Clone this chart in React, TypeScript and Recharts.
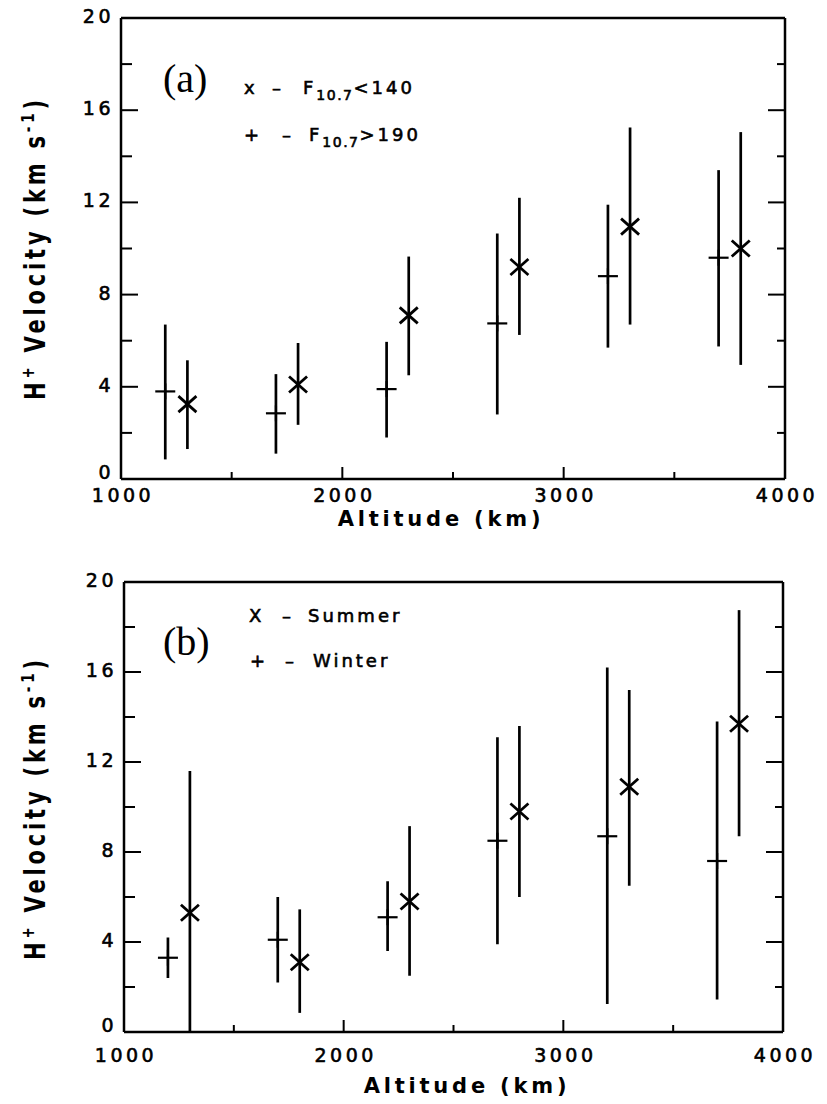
import { ErrorBar, Scatter, ScatterChart, XAxis, YAxis } from 'recharts'

// altitudes (km) of the two marker columns in each group
const ALT_PLUS = [1200, 1700, 2200, 2700, 3200, 3700]
const ALT_CROSS = [1300, 1800, 2300, 2800, 3300, 3800]

// (a) F10.7 > 190  (+)
const A_HIGH_V = [3.8, 2.85, 3.9, 6.75, 8.8, 9.6]
const A_HIGH_LO = [0.85, 1.1, 1.8, 2.8, 5.7, 5.75]
const A_HIGH_UP = [6.7, 4.55, 5.95, 10.65, 11.9, 13.4]
// (a) F10.7 < 140  (x)
const A_LOW_V = [3.25, 4.1, 7.1, 9.2, 10.95, 10.0]
const A_LOW_LO = [1.3, 2.35, 4.5, 6.25, 6.7, 4.95]
const A_LOW_UP = [5.15, 5.9, 9.65, 12.2, 15.25, 15.05]

// (b) Winter (+)
const WINTER_V = [3.3, 4.1, 5.1, 8.5, 8.7, 7.6]
const WINTER_LO = [2.4, 2.2, 3.6, 3.9, 1.25, 1.45]
const WINTER_UP = [4.2, 6.0, 6.7, 13.1, 16.2, 13.8]
// (b) Summer (X)
const SUMMER_V = [5.3, 3.1, 5.8, 9.8, 10.9, 13.7]
const SUMMER_LO = [0, 0.85, 2.5, 6.0, 6.5, 8.7]
const SUMMER_UP = [11.6, 5.45, 9.15, 13.6, 15.2, 18.75]

const X_TICKS = [1000, 1500, 2000, 2500, 3000, 3500, 4000]
const X_LABELS = [1000, 2000, 3000, 4000]
const Y_TICKS = [0, 2, 4, 6, 8, 10, 12, 14, 16, 18, 20]
const Y_LABELS = [0, 4, 8, 12, 16, 20]

const INK = '#000'
const W = 827
const AXIS_LINE = { stroke: INK, strokeWidth: 2.5 }
// thin stroke thickens the glyphs a little, like the scanned lettering
const TICK_FONT = { fontFamily: "'DejaVu Sans', sans-serif", fontSize: 19, letterSpacing: 3.5, fill: INK, stroke: INK, strokeWidth: 0.6 }
const LEGEND_FONT = { fontFamily: "'DejaVu Sans', sans-serif", fontSize: 18, letterSpacing: 3, fill: INK, stroke: INK, strokeWidth: 0.6 }

function build(alt: number[], v: number[], lo: number[], up: number[]) {
  return alt.map((a, i) => ({ alt: a, v: v[i], err: [v[i] - lo[i], up[i] - v[i]] }))
}

const bottomTick = (gap: number) => (p: any) => {
  const major = X_LABELS.includes(p.payload.value)
  return (
    <g>
      <line x1={p.x} y1={p.y} x2={p.x} y2={p.y - (major ? 12 : 7)} stroke={INK} strokeWidth={2} />
      {major && (
        <text x={p.x + 2} y={p.y + gap} textAnchor="middle" dominantBaseline="central" style={TICK_FONT}>
          {p.payload.value}
        </text>
      )}
    </g>
  )
}

const topTick = (p: any) => {
  const major = X_LABELS.includes(p.payload.value)
  return <line x1={p.x} y1={p.y} x2={p.x} y2={p.y + (major ? 12 : 6)} stroke={INK} strokeWidth={2} />
}

const leftTick = (p: any) => {
  const major = Y_LABELS.includes(p.payload.value)
  // the "0" sits a little above its tick, clear of the "1000" below it
  const lift = p.payload.value === 0 ? 7 : 2
  return (
    <g>
      <line x1={p.x} y1={p.y} x2={p.x + (major ? 17 : 11)} y2={p.y} stroke={INK} strokeWidth={2} />
      {major && (
        <text x={p.x - 7} y={p.y - lift} textAnchor="end" dominantBaseline="central" style={TICK_FONT}>
          {p.payload.value}
        </text>
      )}
    </g>
  )
}

const rightTick = (p: any) => {
  const major = Y_LABELS.includes(p.payload.value)
  return <line x1={p.x} y1={p.y} x2={p.x - (major ? 17 : 8)} y2={p.y} stroke={INK} strokeWidth={2} />
}

const crossShape = (p: any) => (
  <g stroke={INK} strokeWidth={2.8}>
    <line x1={p.cx - 9} y1={p.cy - 8} x2={p.cx + 9} y2={p.cy + 8} />
    <line x1={p.cx - 9} y1={p.cy + 8} x2={p.cx + 9} y2={p.cy - 8} />
  </g>
)

const plusShape = (p: any) => (
  <g stroke={INK} strokeWidth={2.2}>
    <line x1={p.cx - 10} y1={p.cy} x2={p.cx + 10} y2={p.cy} />
    <line x1={p.cx} y1={p.cy - 8} x2={p.cx} y2={p.cy + 8} />
  </g>
)

interface Geo {
  top: number
  height: number
  left: number
  right: number
  plotTop: number
  plotBottom: number
  tickGap: number
}

const GEO_A: Geo = { top: 0, height: 552, left: 121, right: 785, plotTop: 18, plotBottom: 479, tickGap: 16 }
const GEO_B: Geo = { top: 552, height: 552, left: 124, right: 783, plotTop: 30, plotBottom: 480, tickGap: 23 }

function Panel({ g, plus, cross }: { g: Geo; plus: any[]; cross: any[] }) {
  return (
    <div style={{ position: 'absolute', left: 0, top: g.top }}>
      <ScatterChart
        width={W}
        height={g.height}
        margin={{ top: g.plotTop - 2, right: W - g.right - 2, bottom: g.height - g.plotBottom - 60, left: 0 }}
      >
        <XAxis
          dataKey="alt"
          type="number"
          domain={[1000, 4000]}
          ticks={X_TICKS}
          interval={0}
          allowDataOverflow
          height={60}
          tickSize={0}
          tickMargin={0}
          tickLine={false}
          axisLine={AXIS_LINE}
          tick={bottomTick(g.tickGap)}
        />
        <XAxis
          xAxisId="top"
          orientation="top"
          type="number"
          domain={[1000, 4000]}
          ticks={X_TICKS}
          interval={0}
          allowDataOverflow
          height={2}
          tickSize={0}
          tickMargin={0}
          tickLine={false}
          axisLine={AXIS_LINE}
          tick={topTick}
        />
        <YAxis
          dataKey="v"
          type="number"
          domain={[0, 20]}
          ticks={Y_TICKS}
          interval={0}
          allowDataOverflow
          width={g.left}
          tickSize={0}
          tickMargin={0}
          tickLine={false}
          axisLine={AXIS_LINE}
          tick={leftTick}
        />
        <YAxis
          yAxisId="right"
          orientation="right"
          type="number"
          domain={[0, 20]}
          ticks={Y_TICKS}
          interval={0}
          allowDataOverflow
          width={2}
          tickSize={0}
          tickMargin={0}
          tickLine={false}
          axisLine={AXIS_LINE}
          tick={rightTick}
        />
        <Scatter data={plus} shape={plusShape} isAnimationActive={false}>
          <ErrorBar dataKey="err" direction="y" width={0} stroke={INK} strokeWidth={2.7} isAnimationActive={false} />
        </Scatter>
        <Scatter data={cross} shape={crossShape} isAnimationActive={false}>
          <ErrorBar dataKey="err" direction="y" width={0} stroke={INK} strokeWidth={2.7} isAnimationActive={false} />
        </Scatter>
      </ScatterChart>
    </div>
  )
}

// condensed look: squeeze the glyphs along the text direction
const SQUEEZE = 0.75

function YTitle({ cy }: { cy: number }) {
  return (
    <text
      transform={`translate(45 ${cy}) rotate(-90) scale(${SQUEEZE} 1)`}
      textAnchor="middle"
      textLength={300 / SQUEEZE}
      lengthAdjust="spacing"
      style={{ fontFamily: "'DejaVu Sans', sans-serif", fontWeight: 700, fontSize: 28, fill: INK }}
    >
      H<tspan fontSize={18} dy={-11}>+</tspan>
      <tspan dy={11}> Velocity (km s</tspan>
      <tspan fontSize={18} dy={-11}>-1</tspan>
      <tspan dy={11}>)</tspan>
    </text>
  )
}

function XTitle({ cx, cy }: { cx: number; cy: number }) {
  return (
    <text
      x={cx}
      y={cy}
      textAnchor="middle"
      dominantBaseline="central"
      style={{ fontFamily: "'DejaVu Sans', sans-serif", fontWeight: 700, fontSize: 21, letterSpacing: 3.8, fill: INK }}
    >
      Altitude (km)
    </text>
  )
}

const PANEL_LABEL = { fontFamily: "'Liberation Serif', serif", fontSize: 40, fill: INK }

export default function App() {
  const plusA = build(ALT_PLUS, A_HIGH_V, A_HIGH_LO, A_HIGH_UP)
  const crossA = build(ALT_CROSS, A_LOW_V, A_LOW_LO, A_LOW_UP)
  const plusB = build(ALT_PLUS, WINTER_V, WINTER_LO, WINTER_UP)
  const crossB = build(ALT_CROSS, SUMMER_V, SUMMER_LO, SUMMER_UP)

  return (
    <div style={{ position: 'absolute', left: 0, top: 0, width: W, height: 1104, background: '#fff' }}>
      <Panel g={GEO_A} plus={plusA} cross={crossA} />
      <Panel g={GEO_B} plus={plusB} cross={crossB} />
      <svg width={W} height={1104} style={{ position: 'absolute', left: 0, top: 0, pointerEvents: 'none' }}>
        {/* panel (a) */}
        <YTitle cy={250} />
        <XTitle cx={441} cy={519} />
        <text x={163} y={92} style={PANEL_LABEL}>(a)</text>
        <text x={244} y={87} dominantBaseline="central" style={LEGEND_FONT}>x</text>
        <text x={272} y={87} dominantBaseline="central" style={LEGEND_FONT}>–</text>
        <text x={303} y={87} dominantBaseline="central" style={LEGEND_FONT}>
          F<tspan fontSize={14} dy={8} style={{ letterSpacing: 1.5 }}>10.7</tspan>
          <tspan dy={-8}>&lt;140</tspan>
        </text>
        <text x={244} y={134} dominantBaseline="central" style={LEGEND_FONT}>+</text>
        <text x={282} y={134} dominantBaseline="central" style={LEGEND_FONT}>–</text>
        <text x={309} y={134} dominantBaseline="central" style={LEGEND_FONT}>
          F<tspan fontSize={14} dy={8} style={{ letterSpacing: 1.5 }}>10.7</tspan>
          <tspan dy={-8}>&gt;190</tspan>
        </text>

        {/* panel (b) */}
        <YTitle cy={810} />
        <XTitle cx={467} cy={1086} />
        <text x={163} y={655} style={PANEL_LABEL}>(b)</text>
        <text x={249} y={615} dominantBaseline="central" style={LEGEND_FONT}>X</text>
        <text x={282} y={615} dominantBaseline="central" style={LEGEND_FONT}>–</text>
        <text x={308} y={615} dominantBaseline="central" style={LEGEND_FONT}>Summer</text>
        <text x={250} y={660} dominantBaseline="central" style={LEGEND_FONT}>+</text>
        <text x={285} y={660} dominantBaseline="central" style={LEGEND_FONT}>–</text>
        <text x={313} y={660} dominantBaseline="central" style={LEGEND_FONT}>Winter</text>
      </svg>
    </div>
  )
}
